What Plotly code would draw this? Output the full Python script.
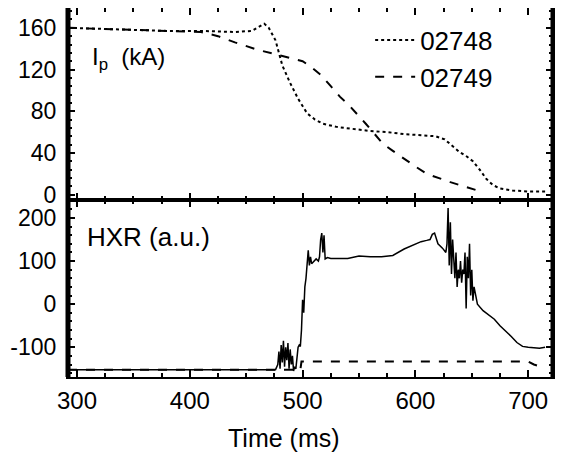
import plotly.graph_objects as go

# ---- data ----
ip_t_02748 = [292, 320, 350, 380, 410, 440, 455, 462, 466, 470, 476, 482, 489, 496, 504, 511, 518,
              530, 545, 560, 575, 590, 605, 618, 626, 633, 639, 645, 651, 657, 663, 669, 675, 686, 700, 715]
ip_v_02748 = [160, 159, 158, 157, 157, 156, 157, 161, 164, 160, 148, 124, 107, 92, 78, 72, 68,
              65, 63, 61, 60, 58, 57, 56, 53, 47, 41, 37, 32, 24, 15, 9, 6, 4, 3, 3]

ip_t_02749 = [292, 320, 350, 380, 410, 425, 440, 460, 475, 489, 500, 508, 516, 525, 533, 541, 548,
              556, 564, 571, 580, 589, 600, 610, 620, 631, 643, 655]
ip_v_02749 = [160, 159, 158, 157, 156, 152, 146, 139, 135, 131, 128, 122, 115, 104, 94, 86, 78,
              68, 58, 49, 42, 35, 27, 20, 16, 12, 8, 4]

hxr_t_02748 = [292, 330, 370, 410, 450, 476, 478, 479, 480, 481, 482, 483, 484, 485, 486, 487, 488,
               489, 490, 491, 492, 493, 494, 495, 496, 497, 498, 499, 500, 501, 502, 503, 504, 505,
               506, 507, 508, 510, 512, 514, 515, 516, 517, 518, 519, 520, 522, 525, 530, 540, 550,
               560, 570, 580, 590, 600, 605, 610, 613, 615, 617, 620, 624, 627, 628, 629, 630, 631,
               632, 633, 634, 635, 636, 637, 638, 639, 640, 641, 642, 643, 644, 645, 646, 647, 648,
               649, 650, 651, 652, 655, 660, 665, 670, 675, 680, 685, 690, 695, 700, 710, 715]
hxr_v_02748 = [-152, -152, -152, -152, -152, -152, -140, -110, -150, -95, -135, -85, -145, -100, -130,
               -90, -150, -105, -140, -120, -155, -145, -150, -130, -100, -95, -98, -60, 10, -20, 40,
               60, 100, 125, 90, 110, 94, 100, 105, 100, 110, 150, 165, 120, 160, 105, 108, 106, 106,
               106, 112, 110, 110, 113, 128, 140, 145, 148, 150, 162, 165, 140, 130, 120, 140, 223,
               90, 190, 70, 150, 90, 60, 120, 40, 80, 60, 100, 50, 80, 70, 120, -10, 110, 60, 140,
               20, 80, 8, 40, 0, -15, -25, -35, -50, -62, -75, -89, -98, -100, -102, -100]

hxr_t_02749 = [292, 498, 499, 700, 705, 715]
hxr_v_02749 = [-152, -152, -133, -133, -140, -148]

x_ticks = [300, 400, 500, 600, 700]
ip_ticks = [0, 40, 80, 120, 160]
hxr_ticks = [-100, 0, 100, 200]
hxr_tick_text = ["-100", "0", "100", "200"]

FONT = "Liberation Sans, Arial, sans-serif"

fig = go.Figure()
fig.add_trace(go.Scatter(x=ip_t_02748, y=ip_v_02748, mode="lines", name="02748",
                         line=dict(color="black", width=2, dash="dot"), xaxis="x2", yaxis="y2"))
fig.add_trace(go.Scatter(x=ip_t_02749, y=ip_v_02749, mode="lines", name="02749",
                         line=dict(color="black", width=2, dash="dash"), xaxis="x2", yaxis="y2"))
fig.add_trace(go.Scatter(x=hxr_t_02748, y=hxr_v_02748, mode="lines", name="02748", showlegend=False,
                         line=dict(color="black", width=1.5), xaxis="x", yaxis="y"))
fig.add_trace(go.Scatter(x=hxr_t_02749, y=hxr_v_02749, mode="lines", name="02749", showlegend=False,
                         line=dict(color="black", width=2, dash="dash"), xaxis="x", yaxis="y"))

xr = [292, 722]
axis_common = dict(showline=True, linecolor="black", linewidth=2, mirror="allticks",
                   ticks="inside", ticklen=7, tickwidth=2, tickcolor="black",
                   showgrid=False, zeroline=False, automargin=False)

fig.update_layout(
    width=563, height=455,
    margin=dict(l=60, r=18, t=0, b=86),
    paper_bgcolor="white", plot_bgcolor="white",
    font=dict(family=FONT, size=23, color="black"),
    xaxis=dict(range=xr, tickvals=x_ticks, domain=[0, 1], anchor="y",
               minor=dict(dtick=25, ticks="inside", ticklen=4, tickcolor="black"),
               tickfont=dict(size=24), ticklabelstandoff=1, **axis_common),
    xaxis2=dict(range=xr, tickvals=x_ticks, matches="x", anchor="y2", showticklabels=False,
                minor=dict(dtick=25, ticks="inside", ticklen=4, tickcolor="black"),
                **axis_common),
    yaxis=dict(range=[-169, 242], tickvals=hxr_ticks, ticktext=hxr_tick_text, domain=[0, 0.48],
               anchor="x", minor=dict(dtick=20, ticks="inside", ticklen=4, tickcolor="black"),
               ticklabelstandoff=5, tickfont=dict(size=23), **axis_common),
    yaxis2=dict(range=[-5, 179], tickvals=ip_ticks, domain=[0.48, 1], anchor="x2",
                minor=dict(dtick=8, ticks="inside", ticklen=4, tickcolor="black"),
                ticklabelstandoff=5, tickfont=dict(size=23), **axis_common),
    legend=dict(x=0.623, y=0.977, xanchor="left", yanchor="top", bgcolor="rgba(0,0,0,0)",
                font=dict(size=26), itemwidth=40, tracegroupgap=0),
    annotations=[
        dict(text="I<sub>p</sub>  (kA)", xref="paper", yref="paper", x=0.045, y=0.864,
             xanchor="left", yanchor="middle", showarrow=False, font=dict(size=24)),
        dict(text="HXR (a.u.)", xref="paper", yref="paper", x=0.035, y=0.379,
             xanchor="left", yanchor="middle", showarrow=False, font=dict(size=26)),
        dict(text="Time (ms)", xref="paper", yref="paper", x=0.445, y=-0.165,
             xanchor="center", yanchor="middle", showarrow=False, font=dict(size=25)),
    ],
    shapes=[
        dict(type="line", xref="paper", yref="paper", x0=0, x1=0, y0=0, y1=1,
             line=dict(color="black", width=5)),
        dict(type="line", xref="paper", yref="paper", x0=1, x1=1, y0=0, y1=1,
             line=dict(color="black", width=5)),
    ],
)

fig.write_html("out.html")
